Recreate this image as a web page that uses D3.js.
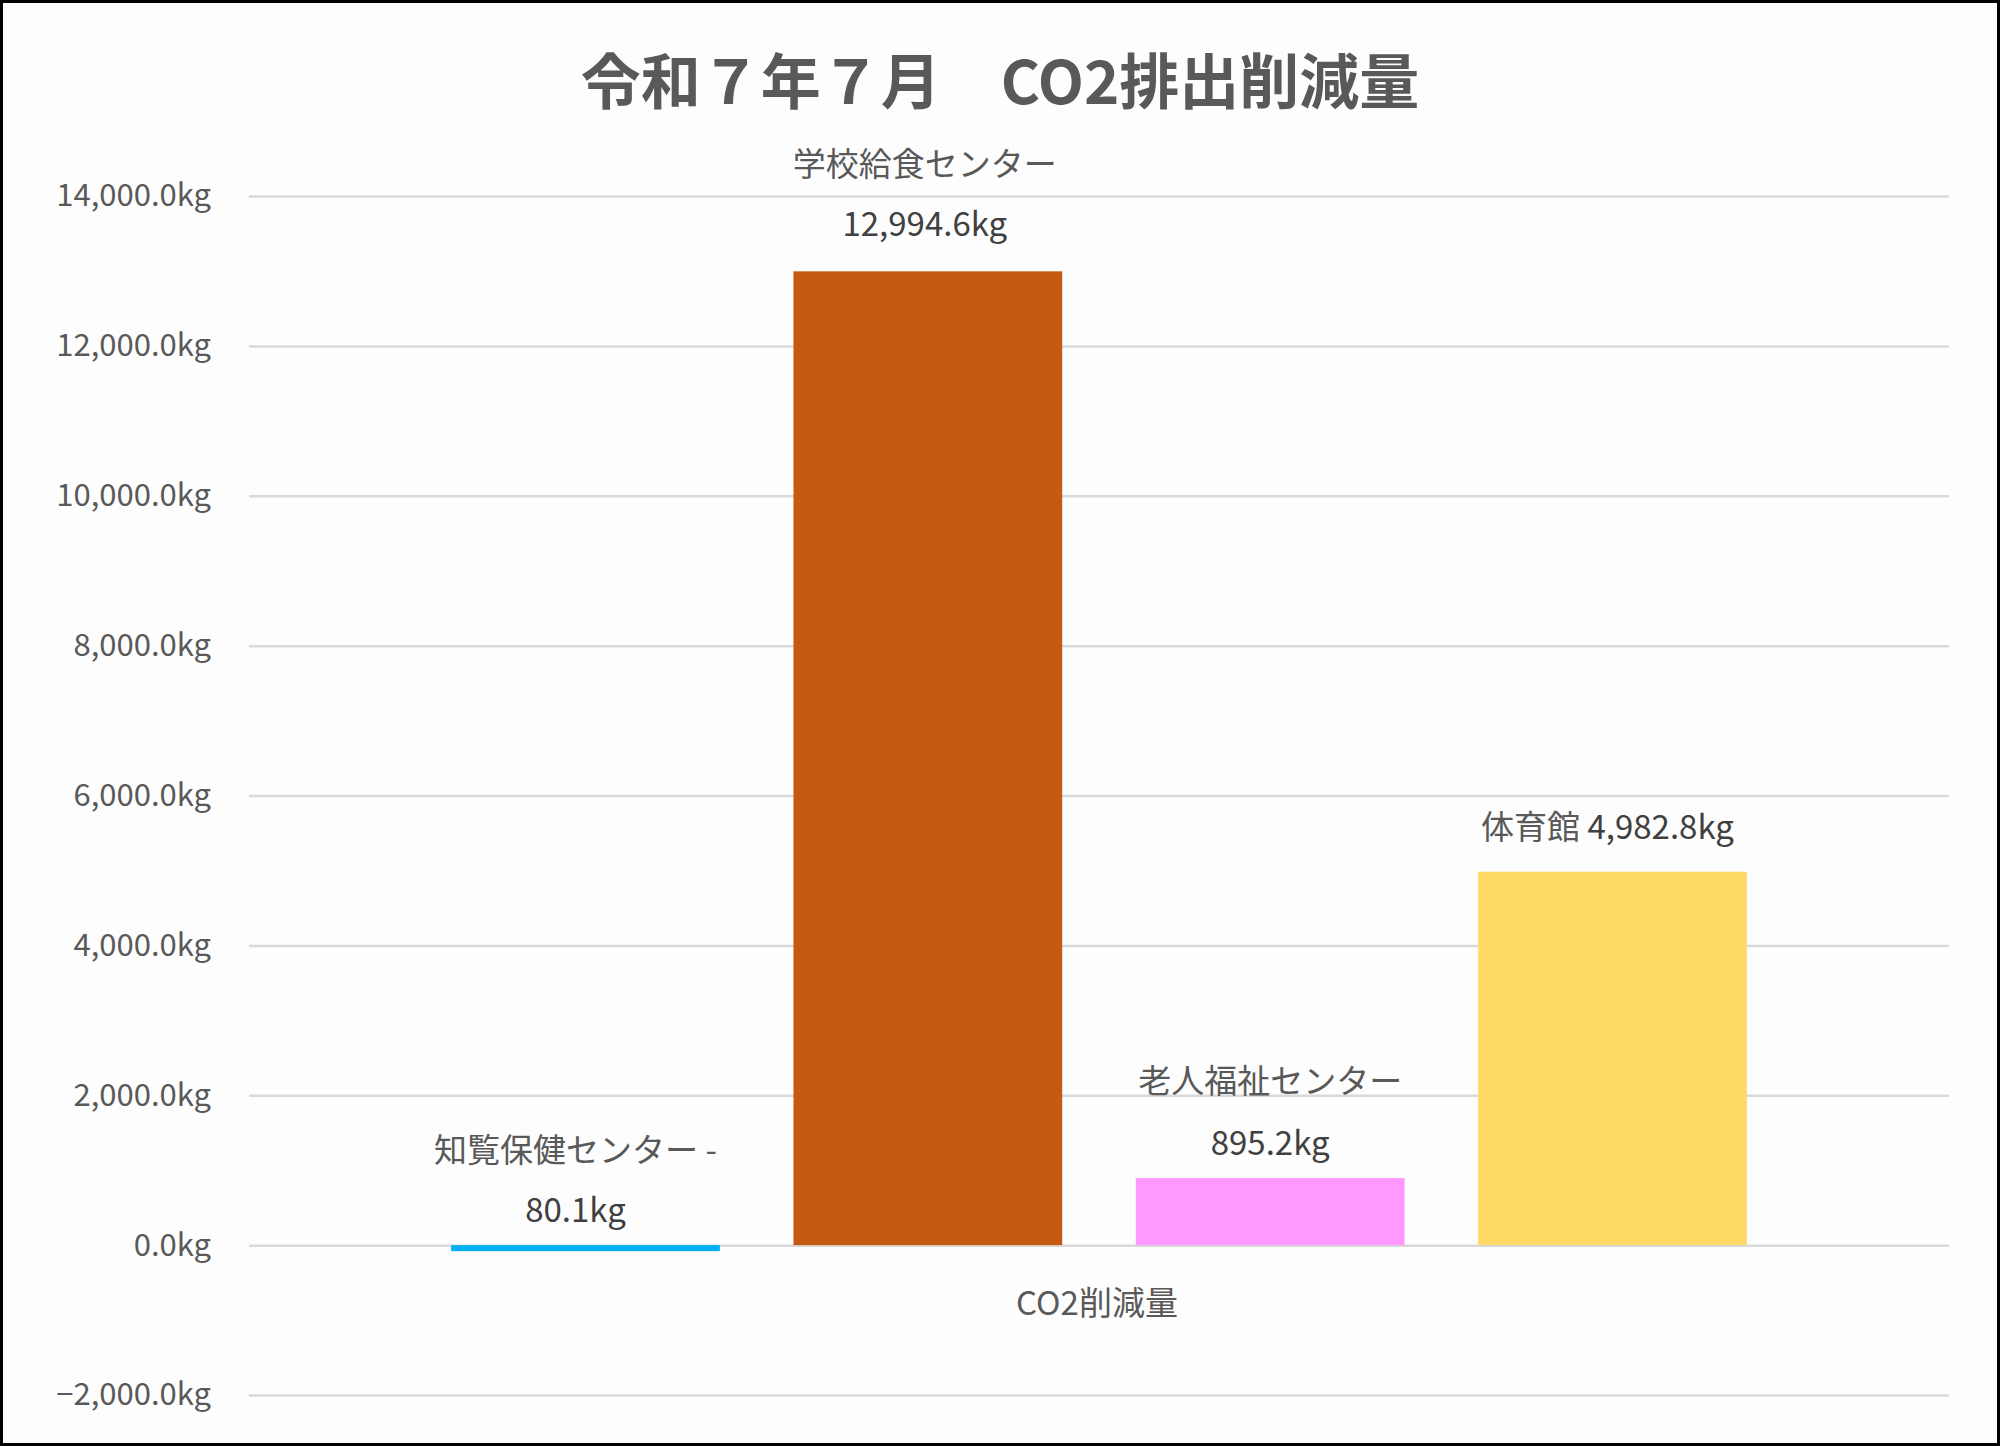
<!DOCTYPE html>
<html><head><meta charset="utf-8">
<script src="https://cdn.jsdelivr.net/npm/d3@7"></script>
<style>body{margin:0;background:#fff}svg{display:block}text{font-family:"Noto Sans CJK JP","Noto Sans",sans-serif}</style>
</head><body><svg id="c" width="2000" height="1446"></svg>
<script>
const category = ["CO2削減量"];
const seriesNames = ["知覧保健センター", "学校給食センター", "老人福祉センター", "体育館"];
const seriesValues = [-80.1, 12994.6, 895.2, 4982.8];
const seriesColors = ["#00B0F0", "#C55A11", "#FF99FF", "#FFD966"];
const yTicks = [-2000, 0, 2000, 4000, 6000, 8000, 10000, 12000, 14000];
const title = "令和７年７月　CO2排出削減量";

(function(){
const svg = d3.select("#c");
svg.append("rect").attr("x",1.5).attr("y",1.5).attr("width",1997).attr("height",1443)
  .attr("fill","#fdfdfd").attr("stroke","#000").attr("stroke-width",3);

const pLeft=249,pRight=1949,pTop=196,pBottom=1395;
const y=d3.scaleLinear().domain([-2000,14000]).range([pBottom,pTop]);
const x0=d3.scaleBand().domain(category).range([pLeft,pRight]).paddingInner(0).paddingOuter(0.156);
const x1=d3.scaleBand().domain(seriesNames).range([0,x0.bandwidth()]).paddingInner(0.215);

const fmt=v=>d3.format(",.1f")(Math.abs(v))+"kg";

const ax=svg.append("g").attr("transform",`translate(${pLeft},0)`)
  .call(d3.axisLeft(y).tickValues(yTicks).tickSize(-(pRight-pLeft)).tickFormat(d=>d3.format(",.1f")(d)+"kg"));
ax.select(".domain").remove();
ax.selectAll(".tick line").attr("stroke","#d9d9d9").attr("stroke-width",2.5);
ax.selectAll(".tick text").attr("x",-38).attr("fill","#595959").style("font-size","31px");

const g=svg.append("g");
seriesNames.forEach((n,i)=>{
  const v=seriesValues[i];
  const bx=x0(category[0])+x1(n);
  g.append("rect").attr("x",bx).attr("width",x1.bandwidth())
    .attr("y",y(Math.max(0,v))).attr("height",Math.abs(y(v)-y(0))).attr("fill",seriesColors[i]);
});

const cx=i=>x0(category[0])+x1(seriesNames[i])+x1.bandwidth()/2;
const lab=(t,xx,yy,c)=>svg.append("text").attr("x",xx).attr("y",yy).attr("text-anchor","middle")
  .attr("dominant-baseline","middle").attr("fill",c).style("font-size","33px").text(t);
const topY=i=>y(Math.max(0,seriesValues[i]));
lab(seriesNames[0]+" -",cx(0)-10,topY(0)-92,"#595959");
lab(fmt(seriesValues[0]),cx(0)-10,topY(0)-32,"#404040");
lab(seriesNames[1],cx(1)-3,topY(1)-104,"#595959");
lab(fmt(seriesValues[1]),cx(1)-3,topY(1)-44,"#404040");
lab(seriesNames[2],cx(2),topY(2)-94,"#595959");
lab(fmt(seriesValues[2]),cx(2),topY(2)-32,"#404040");
const t3=svg.append("text").attr("x",cx(3)-5).attr("y",topY(3)-42).attr("text-anchor","middle")
  .attr("dominant-baseline","middle").style("font-size","33px");
t3.append("tspan").attr("fill","#595959").text(seriesNames[3]+" ");
t3.append("tspan").attr("fill","#404040").text(fmt(seriesValues[3]));

svg.append("text").attr("x",(pLeft+pRight)/2-2).attr("y",1306).attr("text-anchor","middle")
  .attr("dominant-baseline","middle").attr("fill","#595959").style("font-size","33px").text(category[0]);

svg.append("text").attr("x",1000).attr("y",88).attr("text-anchor","middle").attr("dominant-baseline","middle")
  .attr("fill","#595959").style("font-size","60px").style("font-weight","bold").text(title);
})();
</script></body></html>
